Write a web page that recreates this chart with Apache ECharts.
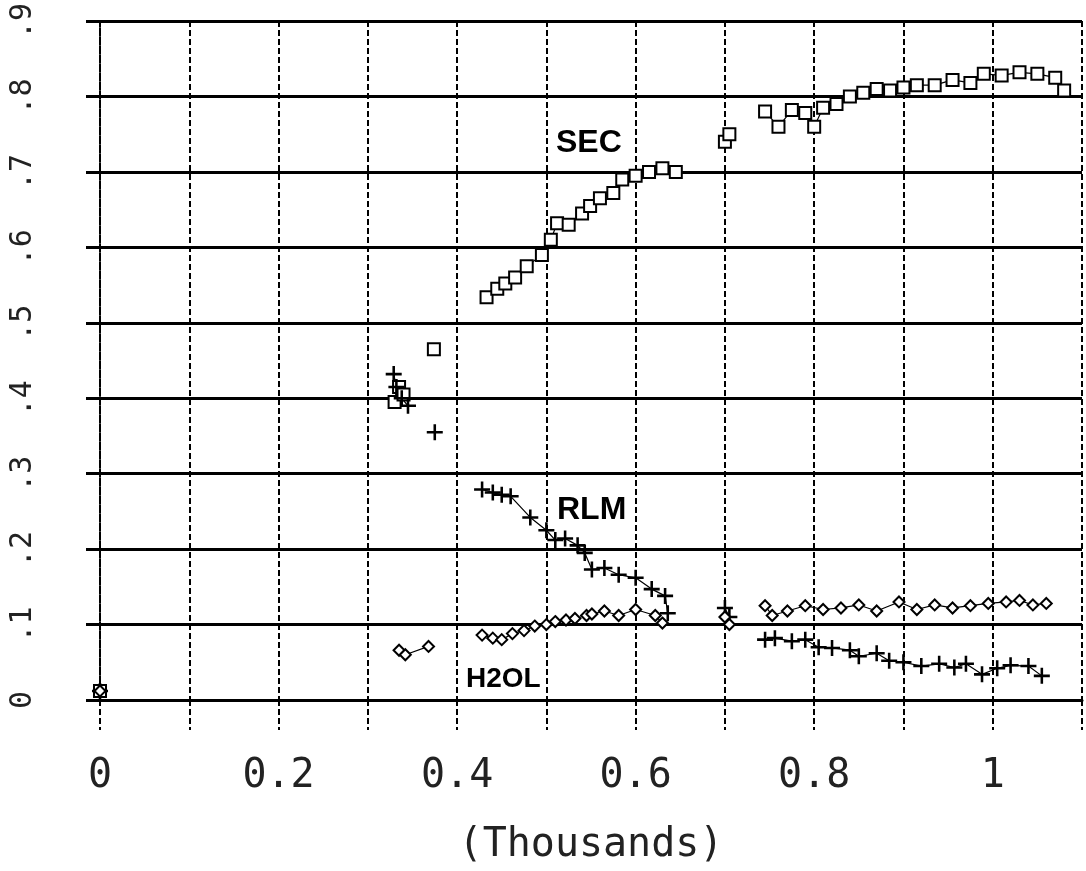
<!DOCTYPE html>
<html>
<head>
<meta charset="utf-8">
<script src="https://cdn.jsdelivr.net/npm/echarts@6/dist/echarts.min.js"></script>
<style>
html,body{margin:0;padding:0;background:#fff;}
#chart{width:1086px;height:871px;}
</style>
</head>
<body>
<div id="chart"></div>
<script>
// ---- data ----
const secX = [0.000,0.330,0.335,0.340,0.374,0.433,0.445,0.454,0.465,0.478,0.495,0.505,0.512,0.525,0.540,0.549,0.560,0.575,0.585,0.600,0.615,0.630,0.645,0.700,0.705,0.745,0.760,0.775,0.790,0.800,0.810,0.825,0.840,0.855,0.870,0.885,0.900,0.915,0.935,0.955,0.975,0.990,1.010,1.030,1.050,1.070,1.080];
const secY = [0.012,0.395,0.415,0.405,0.465,0.534,0.545,0.552,0.560,0.575,0.590,0.610,0.632,0.630,0.645,0.655,0.665,0.672,0.690,0.695,0.700,0.705,0.700,0.740,0.750,0.780,0.760,0.782,0.778,0.760,0.785,0.790,0.800,0.805,0.810,0.808,0.812,0.815,0.815,0.822,0.818,0.830,0.828,0.832,0.830,0.825,0.808];

const rlmX = [0.000,0.329,0.332,0.338,0.345,0.375,0.428,0.440,0.450,0.460,0.482,0.500,0.510,0.521,0.535,0.543,0.551,0.565,0.581,0.600,0.618,0.633,0.636,0.700,0.705,0.745,0.756,0.775,0.790,0.805,0.820,0.840,0.850,0.870,0.884,0.900,0.920,0.940,0.957,0.970,0.988,1.005,1.020,1.040,1.055];
const rlmY = [0.012,0.432,0.415,0.400,0.390,0.355,0.279,0.275,0.272,0.270,0.242,0.225,0.212,0.214,0.205,0.195,0.173,0.175,0.166,0.162,0.147,0.138,0.115,0.122,0.110,0.080,0.082,0.078,0.080,0.070,0.069,0.066,0.058,0.062,0.052,0.050,0.045,0.048,0.043,0.048,0.034,0.042,0.046,0.045,0.032];

const h2oX = [0.000,0.335,0.342,0.368,0.428,0.440,0.450,0.462,0.475,0.487,0.500,0.510,0.522,0.532,0.545,0.551,0.565,0.581,0.600,0.622,0.630,0.700,0.705,0.745,0.753,0.770,0.790,0.810,0.830,0.850,0.870,0.895,0.915,0.935,0.955,0.975,0.995,1.015,1.030,1.045,1.060];
const h2oY = [0.012,0.066,0.060,0.071,0.086,0.082,0.080,0.088,0.092,0.098,0.100,0.104,0.106,0.108,0.112,0.114,0.118,0.112,0.120,0.112,0.102,0.110,0.100,0.125,0.112,0.118,0.125,0.120,0.122,0.126,0.118,0.130,0.120,0.126,0.122,0.125,0.128,0.130,0.132,0.126,0.128];

const seriesNames = ['SEC','RLM','H2OL'];
const xTickLabels = {'0':'0','0.2':'0.2','0.4':'0.4','0.6':'0.6','0.8':'0.8','1':'1'};
const yTickLabels = ['0','.1','.2','.3','.4','.5','.6','.7','.8','.9'];
const xAxisName = '(Thousands)';

// pair up x/y; a gap in x wider than maxGap breaks the connecting line (no data is invented)
function pairs(xs, ys, maxGap){
  const out = [];
  xs.forEach((x,i)=>{
    if (i > 0 && x - xs[i-1] > maxGap) out.push([null, null]);
    out.push([x, ys[i]]);
  });
  return out;
}

const plusPath = 'path://M4.2,0 H5.8 V4.2 H10 V5.8 H5.8 V10 H4.2 V5.8 H0 V4.2 H4.2 Z';

const chart = echarts.init(document.getElementById('chart'), null, {renderer:'canvas'});
const monoFont = '"DejaVu Sans Mono", "Liberation Mono", monospace';

chart.setOption({
  backgroundColor:'#fff',
  animation:false,
  grid:{left:100, right:4, top:20, bottom:158, containLabel:false},
  xAxis:{
    type:'value', min:0, max:1.1, interval:0.1,
    name:xAxisName, nameLocation:'middle', nameGap:126,
    nameTextStyle:{fontFamily:monoFont, fontSize:40, color:'#222'},
    axisLine:{show:true, onZero:false, lineStyle:{color:'#000', width:3}},
    axisTick:{show:true, length:30, lineStyle:{color:'#000', width:2, type:[6,3]}},
    axisLabel:{
      margin:57, fontFamily:monoFont, fontSize:40, color:'#222',
      formatter:function(v){ const k = String(Math.round(v*10)/10); return xTickLabels[k] !== undefined ? xTickLabels[k] : ''; }
    },
    splitLine:{show:true, lineStyle:{color:'#000', width:2, type:[6,3]}}
  },
  yAxis:{
    type:'value', min:0, max:0.9, interval:0.1,
    axisLine:{show:true, lineStyle:{color:'#000', width:2, type:[6,3]}},
    axisTick:{show:true, length:14, lineStyle:{color:'#000', width:3}},
    axisLabel:{
      rotate:90, margin:62, fontFamily:monoFont, fontSize:30, color:'#222',
      formatter:function(v){ return yTickLabels[Math.round(v*10)]; }
    },
    splitLine:{show:true, lineStyle:{color:'#000', width:3}}
  },
  series:[
    {name:seriesNames[0], type:'line', data:pairs(secX, secY, 0.028), connectNulls:false,
     symbol:'emptyRect', symbolSize:12, showAllSymbol:true,
     lineStyle:{color:'#000', width:1.2}, itemStyle:{color:'#000', borderColor:'#000', borderWidth:2}},
    {name:seriesNames[1], type:'line', data:pairs(rlmX, rlmY, 0.028), connectNulls:false,
     symbol:plusPath, symbolSize:16, showAllSymbol:true,
     lineStyle:{color:'#000', width:1.2}, itemStyle:{color:'#000'}},
    {name:seriesNames[2], type:'line', data:pairs(h2oX, h2oY, 0.028), connectNulls:false,
     symbol:'emptyDiamond', symbolSize:11, showAllSymbol:true,
     lineStyle:{color:'#000', width:1.2}, itemStyle:{color:'#000', borderColor:'#000', borderWidth:2}}
  ],
  graphic:[
    {type:'text', left:556, top:127, style:{text:'SEC', font:'bold 32px "Liberation Sans", Arial, sans-serif', fill:'#000'}},
    {type:'text', left:557, top:494, style:{text:'RLM', font:'bold 32px "Liberation Sans", Arial, sans-serif', fill:'#000'}},
    {type:'text', left:466, top:665, style:{text:'H2OL', font:'bold 28px "Liberation Sans", Arial, sans-serif', fill:'#000'}}
  ]
});
</script>
</body>
</html>
